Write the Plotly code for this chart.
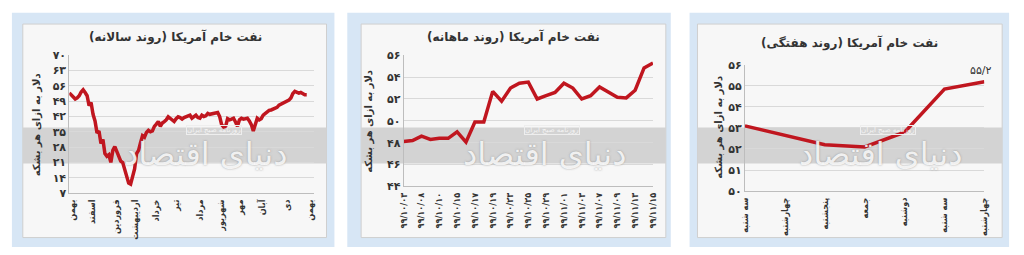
import plotly.graph_objects as go

W, H = 1024, 255
FONT = "DejaVu Sans"
FONT_C = "DejaVu Sans Condensed, DejaVu Sans"
RED = "#c0161f"

# ---------------- data ----------------
# Panel 1: yearly trend (daily-ish samples)
yearly_values = [
    52.8, 52.0, 51.2, 50.0, 50.5, 51.5, 53.2, 54.2, 53.0, 51.5,
    47.0, 48.4, 43.0, 40.0, 34.5, 35.4, 29.6, 31.5, 25.0, 23.8,
    24.5, 21.0, 26.5, 28.2, 26.0, 24.0, 21.6, 20.9, 18.0, 14.5,
    11.5, 11.0, 15.5, 18.0, 25.0, 26.5, 30.0, 33.2, 32.5, 34.7,
    35.7, 35.0, 35.4, 37.5, 38.5, 39.7, 37.5, 39.0, 39.7, 40.5,
    41.9, 41.0, 40.2, 39.7, 41.0, 41.9, 41.5, 40.8, 41.5, 41.9,
    42.3, 42.6, 41.2, 41.8, 42.6, 41.5, 41.2, 42.6, 42.0, 42.3,
    43.4, 43.0, 43.2, 43.6, 43.6, 43.8, 42.0, 38.3, 37.2, 37.5,
    41.0, 40.5, 40.8, 41.2, 39.5, 37.5, 40.5, 41.2, 40.8, 40.8,
    41.2, 40.0, 38.3, 35.4, 38.3, 41.2, 40.5, 41.0, 42.6, 43.5,
    44.1, 44.8, 45.0, 45.5, 46.0, 46.2, 47.2, 47.7, 48.4, 48.8,
    49.1, 49.5, 50.5, 52.5, 53.5, 53.2, 52.7, 53.0, 52.5, 52.0,
    52.0,
]
yearly_month_labels = ["بهمن", "اسفند", "فروردین", "اردیبهشت", "خرداد", "تیر",
                       "مرداد", "شهریور", "مهر", "آبان", "دی", "بهمن"]
yearly_month_pos = [1.5, 11.5, 23.5, 33.5, 44, 54, 66, 76.5, 86.5, 97.5, 110, 121.5]
yearly_yticks = [7, 14, 21, 28, 35, 42, 49, 56, 63, 70]
yearly_ytext = ["۷", "۱۴", "۲۱", "۲۸", "۳۵", "۴۲", "۴۹", "۵۶", "۶۳", "۷۰"]

# Panel 2: monthly trend
monthly_values = [48.1, 48.2, 48.6, 48.3, 48.4, 48.4, 49.0, 48.05, 49.9, 49.9,
                  52.7, 51.8, 53.0, 53.45, 53.55, 52.0, 52.3, 52.6, 53.45, 53.0,
                  52.0, 52.3, 53.1, 52.6, 52.15, 52.1, 52.8, 54.85, 55.3]
monthly_labels = ["۹۹/۱۰/۰۳", "۹۹/۱۰/۰۸", "۹۹/۱۰/۱۰", "۹۹/۱۰/۱۵", "۹۹/۱۰/۱۷",
                  "۹۹/۱۰/۱۹", "۹۹/۱۰/۲۳", "۹۹/۱۰/۲۵", "۹۹/۱۰/۲۹", "۹۹/۱۱/۰۱",
                  "۹۹/۱۱/۰۳", "۹۹/۱۱/۰۷", "۹۹/۱۱/۰۹", "۹۹/۱۱/۱۳", "۹۹/۱۱/۱۵"]
monthly_yticks = [44, 46, 48, 50, 52, 54, 56]
monthly_ytext = ["۴۴", "۴۶", "۴۸", "۵۰", "۵۲", "۵۴", "۵۶"]

# Panel 3: weekly trend
weekly_values = [53.1, 52.65, 52.2, 52.1, 52.8, 54.85, 55.2]
weekly_labels = ["سه شنبه", "چهارشنبه", "پنجشنبه", "جمعه", "دوشنبه", "سه شنبه", "چهارشنبه"]
weekly_last_label = "۵۵/۲"
weekly_yticks = [50, 51, 52, 53, 54, 55, 56]
weekly_ytext = ["۵۰", "۵۱", "۵۲", "۵۳", "۵۴", "۵۵", "۵۶"]

titles = ["نفت خام آمریکا (روند سالانه)", "نفت خام آمریکا (روند ماهانه)", "نفت خام آمریکا (روند هفتگی)"]
ytitle = "دلار به ازای هر بشکه"
logo_text = "دنیای اقتصاد"
logo_sub = "روزنامه صبح ایران"


def px(x):
    return x / W


def py(y):
    return 1 - y / H


fig = go.Figure()

fig.add_trace(go.Scatter(x=list(range(len(yearly_values))), y=yearly_values, mode="lines",
                         line=dict(color=RED, width=3.5), xaxis="x", yaxis="y",
                         hoverinfo="skip", showlegend=False))
fig.add_trace(go.Scatter(x=list(range(len(monthly_values))), y=monthly_values, mode="lines",
                         line=dict(color=RED, width=3.5), xaxis="x2", yaxis="y2",
                         hoverinfo="skip", showlegend=False))
fig.add_trace(go.Scatter(x=list(range(len(weekly_values))), y=weekly_values, mode="lines",
                         line=dict(color=RED, width=3.5), xaxis="x3", yaxis="y3",
                         hoverinfo="skip", showlegend=False))

common_x = dict(showgrid=False, zeroline=False, showline=True, linecolor="#bdbdbd", linewidth=1,
                ticks="", tickangle=-90, tickmode="array", ticklabelstandoff=2,
                tickfont=dict(family=FONT_C, size=9, color="#333333", weight="bold"),
                fixedrange=True)
common_y = dict(showgrid=True, gridcolor="#d9d9d9", gridwidth=1, zeroline=False, showline=True,
                linecolor="#bdbdbd", linewidth=1, ticks="", tickmode="array",
                tickfont=dict(family=FONT, size=11, color="#333333", weight="bold"),
                fixedrange=True)

fig.update_layout(
    width=W, height=H, margin=dict(l=0, r=0, t=0, b=0),
    paper_bgcolor="white", plot_bgcolor="rgba(0,0,0,0)", showlegend=False,
    xaxis=dict(common_x, domain=[px(65), px(312)], range=[0, 123.5],
               tickvals=yearly_month_pos, ticktext=yearly_month_labels, anchor="y"),
    yaxis=dict(common_y, domain=[py(197), py(52)], range=[7, 70],
               tickvals=yearly_yticks, ticktext=yearly_ytext, anchor="x"),
    xaxis2=dict(common_x, domain=[px(403), px(655)], range=[0, len(monthly_values) - 1],
                tickvals=list(range(0, len(monthly_values), 2)), ticktext=monthly_labels, anchor="y2"),
    yaxis2=dict(common_y, domain=[py(190), py(52)], range=[44, 56],
                tickvals=monthly_yticks, ticktext=monthly_ytext, anchor="x2"),
    xaxis3=dict(common_x, domain=[px(748), px(990)], range=[0, len(weekly_values) - 1],
                tickvals=list(range(len(weekly_values))), ticktext=weekly_labels, anchor="y3"),
    yaxis3=dict(common_y, domain=[py(195), py(62)], range=[50, 56],
                tickvals=weekly_yticks, ticktext=weekly_ytext, anchor="x3"),
)

shapes = []
panels = [  # outer blue box, inner panel
    ((7, 7, 333, 254), (18, 19, 325, 244)),
    ((346, 7, 673, 254), (360, 19, 668, 244)),
    ((692, 7, 1015, 254), (700, 19, 1008, 244)),
]
for (ox0, oy0, ox1, oy1), (ix0, iy0, ix1, iy1) in panels:
    shapes.append(dict(type="rect", xref="paper", yref="paper", layer="below",
                       x0=px(ox0), x1=px(ox1), y0=py(oy1), y1=py(oy0),
                       fillcolor="#d7e6f5", line=dict(width=0)))
    shapes.append(dict(type="rect", xref="paper", yref="paper", layer="below",
                       x0=px(ix0), x1=px(ix1), y0=py(iy1), y1=py(iy0),
                       fillcolor="#f7f7f7", line=dict(color="#cfcfcf", width=1)))
    # watermark band
    shapes.append(dict(type="rect", xref="paper", yref="paper", layer="below",
                       x0=px(ix0), x1=px(ix1), y0=py(166), y1=py(128),
                       fillcolor="#d3d3d3", line=dict(width=0)))
fig.update_layout(shapes=shapes)

annotations = []
title_pos = [(172, 33), (514, 33), (854, 39)]
ytitle_pos = [(32, 125), (368, 122), (722, 128)]
for i, ((ox0, oy0, ox1, oy1), (ix0, iy0, ix1, iy1)) in enumerate(panels):
    # watermark logo (kept inside the plot area, clear of tick labels)
    annotations.append(dict(xref="paper", yref="paper", x=px(ix0 + 185), y=py(156),
                            text=logo_text, showarrow=False, xanchor="center", yanchor="middle",
                            font=dict(family=FONT, size=32, color="rgba(255,255,255,0.85)",
                                      shadow="0px 0px 2px rgba(120,120,120,0.8)")))
    annotations.append(dict(xref="paper", yref="paper", x=px(ix0 + 193), y=py(131),
                            text=logo_sub, showarrow=False, xanchor="center", yanchor="middle",
                            font=dict(family=FONT, size=7, color="#f4f4f4"),
                            bordercolor="#eeeeee", borderwidth=1, borderpad=0))
    tx, ty = title_pos[i]
    annotations.append(dict(xref="paper", yref="paper", x=px(tx), y=py(ty), text="<b>" + titles[i] + "</b>",
                            showarrow=False, xanchor="center", yanchor="middle",
                            font=dict(family=FONT, size=12, color="#333333")))
    yx, yy = ytitle_pos[i]
    annotations.append(dict(xref="paper", yref="paper", x=px(yx), y=py(yy), text="<b>" + ytitle + "</b>",
                            showarrow=False, xanchor="center", yanchor="middle", textangle=-90,
                            font=dict(family=FONT, size=10, color="#333333")))

annotations.append(dict(xref="x3", yref="y3", x=len(weekly_values) - 1, y=weekly_values[-1],
                        text=weekly_last_label, showarrow=False, xanchor="center", yanchor="bottom",
                        xshift=-3, yshift=3, font=dict(family=FONT, size=11, color="#333333")))
fig.update_layout(annotations=annotations)

fig.write_html("out.html")
